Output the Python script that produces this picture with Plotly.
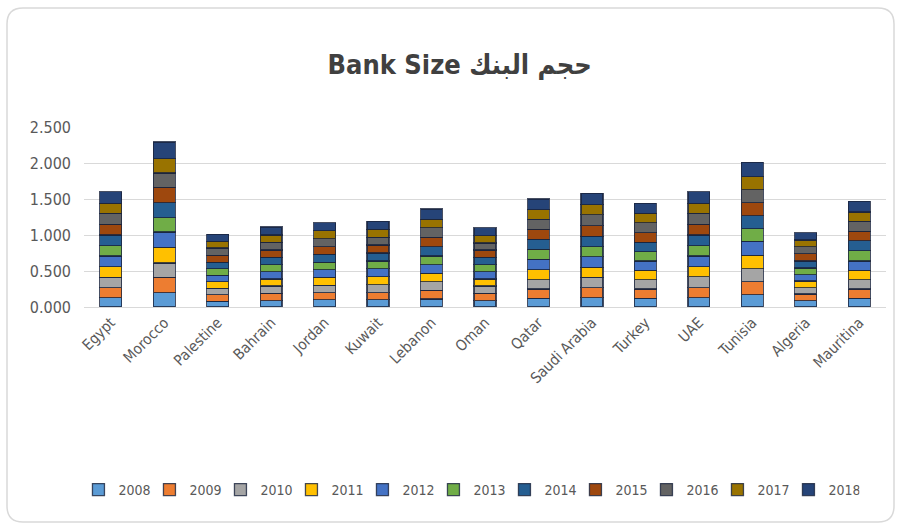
import plotly.graph_objects as go

countries = ["Egypt", "Morocco", "Palestine", "Bahrain", "Jordan", "Kuwait", "Lebanon",
             "Oman", "Qatar", "Saudi Arabia", "Turkey", "UAE", "Tunisia", "Algeria", "Mauritina"]
years = ["2008", "2009", "2010", "2011", "2012", "2013", "2014", "2015", "2016", "2017", "2018"]

y2008 = [0.13, 0.20, 0.08, 0.09, 0.10, 0.10, 0.11, 0.09, 0.12, 0.13, 0.12, 0.13, 0.17, 0.09, 0.12]
y2009 = [0.14, 0.21, 0.09, 0.10, 0.10, 0.10, 0.12, 0.10, 0.13, 0.14, 0.13, 0.14, 0.18, 0.09, 0.13]
y2010 = [0.14, 0.20, 0.09, 0.10, 0.10, 0.11, 0.12, 0.10, 0.13, 0.14, 0.13, 0.15, 0.18, 0.09, 0.13]
y2011 = [0.15, 0.22, 0.09, 0.10, 0.11, 0.11, 0.12, 0.10, 0.14, 0.14, 0.13, 0.14, 0.19, 0.09, 0.13]
y2012 = [0.15, 0.21, 0.09, 0.10, 0.11, 0.11, 0.12, 0.10, 0.14, 0.15, 0.13, 0.15, 0.19, 0.09, 0.13]
y2013 = [0.14, 0.20, 0.09, 0.10, 0.10, 0.11, 0.12, 0.10, 0.14, 0.14, 0.13, 0.14, 0.18, 0.09, 0.14]
y2014 = [0.15, 0.21, 0.09, 0.10, 0.11, 0.11, 0.13, 0.10, 0.14, 0.14, 0.13, 0.15, 0.18, 0.10, 0.14]
y2015 = [0.15, 0.21, 0.10, 0.10, 0.11, 0.11, 0.13, 0.10, 0.14, 0.15, 0.13, 0.15, 0.18, 0.10, 0.13]
y2016 = [0.15, 0.20, 0.10, 0.11, 0.11, 0.11, 0.13, 0.10, 0.14, 0.15, 0.14, 0.15, 0.18, 0.10, 0.14]
y2017 = [0.14, 0.20, 0.09, 0.10, 0.11, 0.11, 0.12, 0.10, 0.13, 0.14, 0.13, 0.14, 0.18, 0.09, 0.13]
y2018 = [0.16, 0.23, 0.10, 0.11, 0.11, 0.11, 0.14, 0.11, 0.15, 0.16, 0.14, 0.16, 0.20, 0.10, 0.15]

series = [y2008, y2009, y2010, y2011, y2012, y2013, y2014, y2015, y2016, y2017, y2018]
colors = ["#5B9BD5", "#ED7D31", "#A5A5A5", "#FFC000", "#4472C4", "#70AD47",
          "#255E91", "#9E480E", "#636363", "#997300", "#264478"]

y_ticks = [0, 0.5, 1.0, 1.5, 2.0, 2.5]

FONT = "DejaVu Sans Condensed, Liberation Sans Narrow, DejaVu Sans"

fig = go.Figure()
for yr, vals, col in zip(years, series, colors):
    fig.add_trace(go.Bar(
        x=countries, y=vals, name=yr,
        marker=dict(color=col, line=dict(color="rgba(25,35,60,0.8)", width=1.3)),
    ))

# plot area in pixels
L, R, T, B = 84, 886, 127, 307
W, H = R - L, B - T

def px(xp):
    return (xp - L) / W

def py(yp):
    return (B - yp) / H

# rounded outer border
x0, x1, y0, y1, r = 7, 894, 8, 522, 16
path = (f"M {px(x0 + r)},{py(y0)} L {px(x1 - r)},{py(y0)} "
        f"Q {px(x1)},{py(y0)} {px(x1)},{py(y0 + r)} "
        f"L {px(x1)},{py(y1 - r)} Q {px(x1)},{py(y1)} {px(x1 - r)},{py(y1)} "
        f"L {px(x0 + r)},{py(y1)} Q {px(x0)},{py(y1)} {px(x0)},{py(y1 - r)} "
        f"L {px(x0)},{py(y0 + r)} Q {px(x0)},{py(y0)} {px(x0 + r)},{py(y0)} Z")

fig.update_layout(
    width=903, height=530,
    margin=dict(l=L, r=903 - R, t=T, b=530 - B),
    paper_bgcolor="white", plot_bgcolor="white",
    barmode="stack", bargap=0.59,
    title=dict(text="<b>Bank Size حجم البنك</b>", x=0.509, xanchor="center",
               y=1 - 65 / 530, yanchor="middle",
               font=dict(family=FONT, size=27, color="#404040")),
    xaxis=dict(tickangle=-45, tickfont=dict(family=FONT, size=15, color="#595959"),
               showgrid=False, showline=True, linecolor="#D9D9D9", linewidth=1, ticks=""),
    yaxis=dict(range=[0, 2.5], tickvals=y_ticks, tickformat=".3f",
               tickfont=dict(family=FONT, size=16, color="#595959"),
               showgrid=True, gridcolor="#D9D9D9", gridwidth=1, zeroline=False,
               showline=False, ticks="", ticklabelstandoff=12),
    legend=dict(orientation="h", x=0.48, xanchor="center", y=py(490), yanchor="middle",
                traceorder="normal", itemwidth=30, entrywidth=26, entrywidthmode="pixels",
                font=dict(family=FONT, size=14, color="#595959")),
    shapes=[dict(type="path", xref="paper", yref="paper", path=path,
                 line=dict(color="#D9D9D9", width=1.5), layer="below")],
    showlegend=True,
)

fig.write_html("out.html")
